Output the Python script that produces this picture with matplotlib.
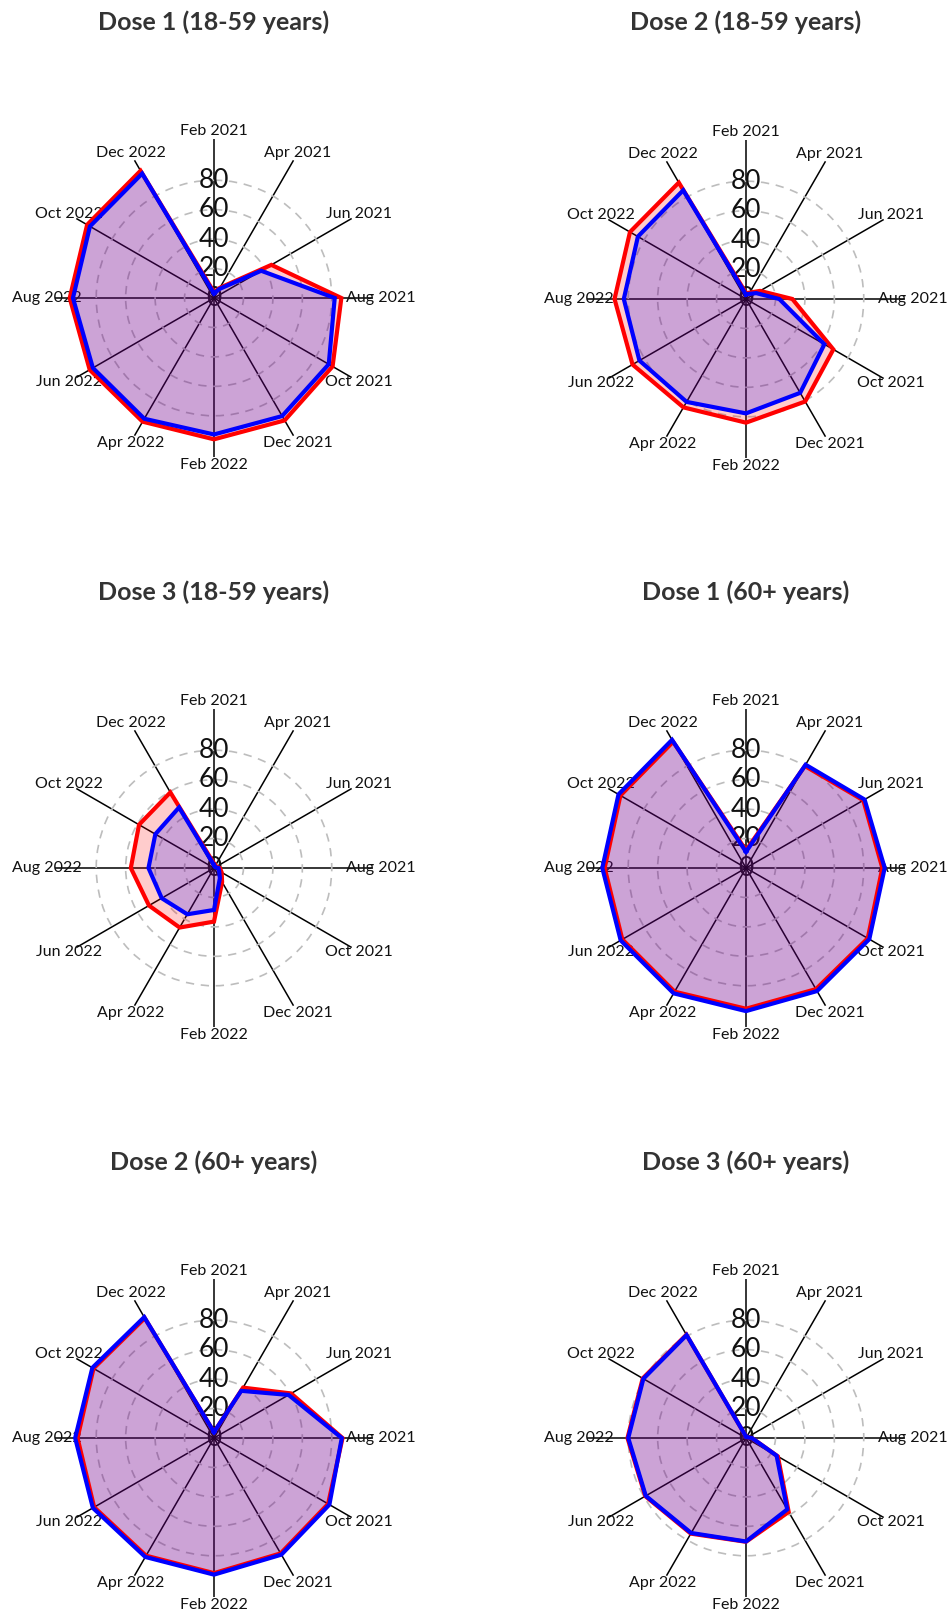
import numpy
from matplotlib import pyplot

# month labels on the spokes, clockwise from the top
months = ['Feb 2021', 'Apr 2021', 'Jun 2021', 'Aug 2021', 'Oct 2021', 'Dec 2021',
          'Feb 2022', 'Apr 2022', 'Jun 2022', 'Aug 2022', 'Oct 2022', 'Dec 2022']

titles = ['Dose 1 (18-59 years)', 'Dose 2 (18-59 years)', 'Dose 3 (18-59 years)',
          'Dose 1 (60+ years)', 'Dose 2 (60+ years)', 'Dose 3 (60+ years)']

# coverage (%) per month, red and blue series for each panel
d1_young_red = [4, 8, 45, 86.5, 93, 96, 96, 97, 97.5, 98, 99.5, 99.8]
d1_young_blue = [3, 7, 37, 82, 90, 92.6, 92.7, 94.7, 95, 95.8, 97.3, 97.6]
d2_young_red = [4, 5, 11, 31.5, 68.5, 80.4, 84, 85, 89, 89.3, 91, 91.3]
d2_young_blue = [3, 4, 8, 22.6, 61.5, 73.6, 77.7, 80.7, 83.6, 83, 84.8, 85.3]
d3_young_red = [3, 2, 2, 4, 6, 11, 36.4, 46.7, 51, 56.5, 58.8, 59.3]
d3_young_blue = [2, 1, 1, 3, 4, 8, 28.5, 36.3, 41, 44.5, 46, 47.5]
d1_old_red = [12, 80, 92, 92.6, 95.5, 95, 95.6, 97, 97, 96, 98.5, 99]
d1_old_blue = [11, 81, 93, 94.2, 96.7, 96.5, 97.2, 98.3, 98.3, 97.6, 100, 100.5]
d2_old_red = [4, 39.5, 60.5, 87.3, 89.5, 90.5, 91.8, 92.3, 94, 92.7, 94.5, 94]
d2_old_blue = [4, 37, 58.5, 86.8, 90.5, 91.5, 92.8, 93.3, 95, 94.3, 95.4, 94.8]
d3_old_red = [1, 1, 1, 4, 25, 58, 70.5, 75, 79, 80.5, 81, 81]
d3_old_blue = [1, 1, 1, 4, 24, 56, 70.3, 74.5, 78.6, 80, 80.5, 80.7]

red_series = [d1_young_red, d2_young_red, d3_young_red, d1_old_red, d2_old_red, d3_old_red]
blue_series = [d1_young_blue, d2_young_blue, d3_young_blue, d1_old_blue, d2_old_blue, d3_old_blue]

# figure size in pixels
W = 949
H = 1614
# panel centres and title heights (pixels from the top left)
centres = [(214, 298), (746, 299), (214, 868), (746, 868), (214, 1438), (746, 1438)]
title_y = [22, 22, 592, 592, 1162, 1162]
# radial scale: outer radius in data units and in pixels
RMAX = 108
RPIX = 159
# radius where the month labels sit
RLAB = 113.5

fig = pyplot.figure(figsize=(W / 100, H / 100), dpi=100)

theta = numpy.linspace(0, 2 * numpy.pi, len(months), endpoint=False)
theta_closed = numpy.append(theta, theta[0])

for i in range(6):
    cx, cy = centres[i]
    ax = fig.add_axes([(cx - RPIX) / W, 1 - (cy + RPIX) / H, 2 * RPIX / W, 2 * RPIX / H],
                      projection='polar')
    ax.set_theta_zero_location('N')
    ax.set_theta_direction(-1)
    ax.set_ylim(0, RMAX)

    # spokes
    ax.set_xticks(theta)
    ax.set_xticklabels([])
    ax.xaxis.grid(True, color='black', linewidth=1.1)

    # dashed rings
    ax.set_yticks([20, 40, 60, 80])
    ax.set_yticklabels([])
    ax.yaxis.grid(True, color='#bdbdbd', linestyle=(0, (5, 4)), linewidth=1.2)
    ax.spines['polar'].set_visible(False)
    ax.set_axisbelow(True)

    # month labels centred just past the spoke ends
    for t, m in zip(theta, months):
        ax.text(t, RLAB, m, ha='center', va='center', fontsize=11.5,
                family='Lato', color='#111111', zorder=0.6, clip_on=False)

    # ring values along the top spoke
    for r in [0, 20, 40, 60, 80]:
        ax.text(0, r, str(r), ha='center', va='center', fontsize=19,
                family='Lato', color='#111111', zorder=0.7)

    red = numpy.append(red_series[i], red_series[i][0])
    blue = numpy.append(blue_series[i], blue_series[i][0])
    ax.fill(theta_closed, red, color='red', alpha=0.2, linewidth=0)
    ax.plot(theta_closed, red, color='red', linewidth=3, solid_joinstyle='miter')
    ax.fill(theta_closed, blue, color='blue', alpha=0.2, linewidth=0)
    ax.plot(theta_closed, blue, color='blue', linewidth=3, solid_joinstyle='miter')

    fig.text(cx / W, 1 - title_y[i] / H, titles[i], ha='center', va='center',
             fontsize=18, fontweight='bold', family='Lato', color='#333333')

fig.savefig('out.png', dpi=100)
